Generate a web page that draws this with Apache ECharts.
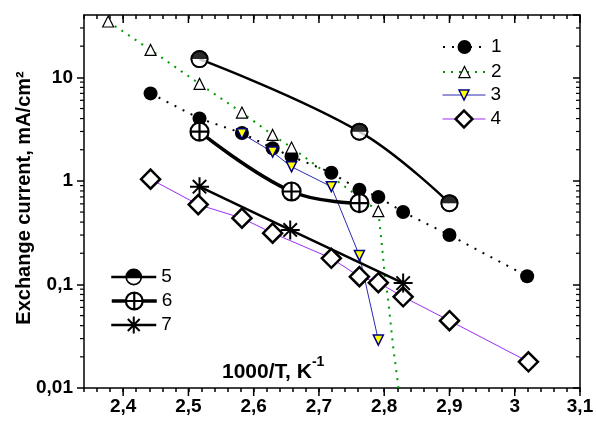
<!DOCTYPE html>
<html><head><meta charset="utf-8">
<script src="https://cdn.jsdelivr.net/npm/echarts@6/dist/echarts.min.js"></script>
<style>html,body{margin:0;padding:0;background:#fff}#c{width:596px;height:421px}</style>
</head><body><div id="c"></div>
<script>
// ---- axis ranges & ticks ----
const X_MIN = 2.34, X_MAX = 3.1, Y_MIN = 0.01, Y_MAX = 40;
const xMajorTicks = [2.4, 2.5, 2.6, 2.7, 2.8, 2.9, 3.0, 3.1];
const xTickLabels = ['2,4', '2,5', '2,6', '2,7', '2,8', '2,9', '3', '3,1'];
const yMajorTicks = [0.01, 0.1, 1, 10];
const yTickLabels = ['0,01', '0,1', '1', '10'];
const yMinorTicks = [0.02, 0.03, 0.04, 0.05, 0.06, 0.07, 0.08, 0.09,
                     0.2, 0.3, 0.4, 0.5, 0.6, 0.7, 0.8, 0.9,
                     2, 3, 4, 5, 6, 7, 8, 9, 20, 30];
const xTitle = '1000/T, K';
const xTitleSup = '-1';
const yTitle = 'Exchange current, mA/cm²';

// ---- data ----
const s1x = [2.442, 2.517, 2.582, 2.629, 2.658, 2.719, 2.762, 2.791, 2.829, 2.900, 3.019];
const s1y = [7.0, 4.0, 2.9, 2.07, 1.72, 1.2, 0.82, 0.70, 0.50, 0.30, 0.12];
const s2x = [2.377, 2.442, 2.517, 2.582, 2.629, 2.658, 2.791];
const s2y = [34.6, 18.4, 8.65, 4.57, 2.78, 2.10, 0.51];
const s2tailX = [2.791, 2.797, 2.801, 2.806, 2.814, 2.822, 2.828];
const s2tailY = [0.51, 0.22, 0.12, 0.071, 0.024, 0.010, 0.005];
const s3x = [2.582, 2.629, 2.658, 2.719, 2.762, 2.791];
const s3y = [2.85, 1.9, 1.37, 0.88, 0.19, 0.029];
const s4x = [2.442, 2.515, 2.582, 2.629, 2.719, 2.762, 2.791, 2.829, 2.900, 3.021];
const s4y = [1.04, 0.59, 0.437, 0.313, 0.179, 0.119, 0.104, 0.076, 0.0447, 0.0179];
const s5x = [2.517, 2.762, 2.900];
const s5y = [15.0, 2.99, 0.61];
const s6x = [2.517, 2.658, 2.762];
const s6y = [2.99, 0.79, 0.61];
const s7x = [2.517, 2.656, 2.829];
const s7y = [0.88, 0.336, 0.103];

const FONT = '"Liberation Sans", Arial, Helvetica, sans-serif';
const zip = (xs, ys) => xs.map((x, i) => [x, ys[i]]);
const fmtX = v => { for (let i = 0; i < xMajorTicks.length; i++) if (Math.abs(v - xMajorTicks[i]) < 1e-6) return xTickLabels[i]; return ''; };
const fmtY = v => { for (let i = 0; i < yMajorTicks.length; i++) if (Math.abs(Math.log10(v) - Math.log10(yMajorTicks[i])) < 1e-6) return yTickLabels[i]; return ''; };

const HALF_RING = 'path://M0,10A10,10,0,1,1,20,10A10,10,0,1,1,0,10ZM2,10A8,8,0,1,0,18,10A8,8,0,1,0,2,10ZM2,10A8,8,0,0,1,18,10Z';
const CROSS_CIRCLE = 'path://M0,10A10,10,0,1,1,20,10A10,10,0,1,1,0,10ZM0,10L20,10M10,0L10,20';
const ASTERISK = 'path://M0,10L20,10M10,0L10,20M2.93,2.93L17.07,17.07M17.07,2.93L2.93,17.07';

const chart = echarts.init(document.getElementById('c'), null, {renderer: 'canvas', width: 596, height: 421});

const axisLine = {show: true, onZero: false, lineStyle: {color: '#000', width: 1.5}};
const legendBase = (name, left, top, w, h) => ({
  data: [name], left: left, top: top, itemWidth: w, itemHeight: h, padding: 0,
  selectedMode: false, orient: 'vertical',
  lineStyle: {width: 'inherit'}, itemStyle: {borderWidth: 'inherit'},
  textStyle: {fontSize: 19, fontFamily: FONT, color: '#000', lineHeight: 22}
});

const option = {
  animation: false,
  backgroundColor: '#fff',
  grid: {left: 84, right: 16, top: 15, bottom: 33, containLabel: false, outerBoundsMode: 'none'},
  xAxis: [
    {type: 'value', min: X_MIN, max: X_MAX, interval: 0.02, position: 'bottom',
     axisLine: axisLine, splitLine: {show: false},
     axisTick: {show: true, inside: false, length: 4, lineStyle: {color: '#000', width: 1.5}},
     axisLabel: {formatter: fmtX, color: '#000', fontSize: 19, fontWeight: 'bold', fontFamily: FONT, margin: 9}},
    {type: 'value', min: X_MIN, max: X_MAX, interval: 0.02, position: 'top',
     axisLine: axisLine, splitLine: {show: false},
     axisTick: {show: true, inside: true, length: 4, lineStyle: {color: '#000', width: 1.5}},
     axisLabel: {show: false}}
  ],
  yAxis: [
    {type: 'log', logBase: 10, min: Y_MIN, max: Y_MAX, position: 'left',
     axisLine: axisLine, splitLine: {show: false},
     axisTick: {show: true, inside: false, length: 7, lineStyle: {color: '#000', width: 1.5}},
     axisLabel: {formatter: fmtY, showMaxLabel: false, color: '#000', fontSize: 19, fontWeight: 'bold', fontFamily: FONT, margin: 11}},
    {type: 'log', logBase: 10, min: Y_MIN, max: Y_MAX, position: 'right',
     axisLine: axisLine, splitLine: {show: false},
     axisTick: {show: true, inside: true, length: 7, lineStyle: {color: '#000', width: 1.5}},
     axisLabel: {show: false}}
  ],
  graphic: [
    {type: 'text', left: 222, top: 355, silent: true,
     style: {text: '{a|' + xTitle + '}{b|' + xTitleSup + '}', rich: {
       a: {fontSize: 21, fontWeight: 'bold', fontFamily: FONT, fill: '#000', verticalAlign: 'bottom', lineHeight: 28},
       b: {fontSize: 14, fontWeight: 'bold', fontFamily: FONT, fill: '#000', verticalAlign: 'top', lineHeight: 28}
     }}},
    {type: 'text', x: 24, y: 198, rotation: Math.PI / 2, silent: true,
     style: {text: yTitle, fontSize: 20, fontWeight: 'bold', fontFamily: FONT, fill: '#000',
             align: 'center', verticalAlign: 'middle'}}
  ],
  legend: [
    legendBase('1', 442, 36, 43, 17.5),
    legendBase('2', 442, 61, 43, 14),
    legendBase('3', 442, 84, 43, 12.5),
    legendBase('4', 442, 108, 43, 21),
    legendBase('5', 110, 266, 45, 21),
    legendBase('6', 110, 290, 45, 21),
    legendBase('7', 110, 314, 45, 21)
  ],
  series: [
    {type: 'custom', silent: true, clip: false, z: 1, xAxisIndex: 0, yAxisIndex: 0,
     data: xMajorTicks.map(v => [v, Y_MIN]),
     renderItem: (params, api) => {
       const v = api.value(0);
       const b = api.coord([v, Y_MIN]); const t = api.coord([v, Y_MAX]);
       const st = {stroke: '#000', lineWidth: 1.5};
       return {type: 'group', children: [
         {type: 'line', shape: {x1: b[0], y1: b[1], x2: b[0], y2: b[1] + 8}, style: st},
         {type: 'line', shape: {x1: t[0], y1: t[1], x2: t[0], y2: t[1] + 8}, style: st}
       ]};
     }},
    {type: 'custom', silent: true, clip: false, z: 1, xAxisIndex: 0, yAxisIndex: 0,
     data: yMinorTicks.map(v => [X_MIN, v]),
     renderItem: (params, api) => {
       const v = api.value(1);
       const l = api.coord([X_MIN, v]); const r = api.coord([X_MAX, v]);
       const st = {stroke: '#000', lineWidth: 1.2};
       return {type: 'group', children: [
         {type: 'line', shape: {x1: l[0] - 4, y1: l[1], x2: l[0], y2: l[1]}, style: st},
         {type: 'line', shape: {x1: r[0] - 4, y1: r[1], x2: r[0], y2: r[1]}, style: st}
       ]};
     }},
    {type: 'line', name: '1', data: zip(s1x, s1y), z: 2, emphasis: {disabled: true},
     symbol: 'circle', symbolSize: 14, itemStyle: {color: '#000'},
     lineStyle: {color: '#000', width: 2, type: [2, 7]}},
    {type: 'line', name: '2', data: zip(s2x, s2y), z: 2, emphasis: {disabled: true},
     symbol: 'triangle', symbolSize: 11, itemStyle: {color: '#fff', borderColor: '#000', borderWidth: 1.2},
     lineStyle: {color: '#009a00', width: 2, type: [2, 6]}},
    {type: 'line', data: zip(s2tailX, s2tailY), z: 2, silent: true, symbol: 'none',
     lineStyle: {color: '#009a00', width: 2, type: [2, 6]}},
    {type: 'line', name: '3', data: zip(s3x, s3y), z: 2, emphasis: {disabled: true},
     symbol: 'triangle', symbolRotate: 180, symbolSize: 10,
     itemStyle: {color: '#ffff00', borderColor: '#000080', borderWidth: 1.5},
     lineStyle: {color: '#2a2ab0', width: 1}},
    {type: 'line', name: '4', data: zip(s4x, s4y), z: 2, emphasis: {disabled: true},
     symbol: 'diamond', symbolSize: 19,
     itemStyle: {color: '#fff', borderColor: '#000', borderWidth: 2.5},
     lineStyle: {color: '#9a30f5', width: 1}},
    {type: 'line', name: '5', data: zip(s5x, s5y), z: 2, emphasis: {disabled: true}, smooth: 0.4,
     symbol: HALF_RING, symbolSize: 18, itemStyle: {color: '#000', borderWidth: 0},
     lineStyle: {color: '#000', width: 2.5}},
    {type: 'scatter', data: zip(s5x, s5y), z: 3, silent: true,
     symbol: 'circle', symbolSize: 14, itemStyle: {color: '#fff'}},
    {type: 'scatter', data: zip(s5x, s5y), z: 4, silent: true,
     symbol: HALF_RING, symbolSize: 18, itemStyle: {color: '#000'}},
    {type: 'line', name: '6', data: zip(s6x, s6y), z: 2, emphasis: {disabled: true}, smooth: 0.4,
     symbol: CROSS_CIRCLE, symbolSize: 18,
     itemStyle: {color: '#fff', borderColor: '#000', borderWidth: 2.2},
     lineStyle: {color: '#000', width: 3.5}},
    {type: 'line', name: '7', data: zip(s7x, s7y), z: 2, emphasis: {disabled: true},
     symbol: ASTERISK, symbolSize: 19,
     itemStyle: {color: '#000', borderColor: '#000', borderWidth: 2},
     lineStyle: {color: '#000', width: 2.5}}
  ]
};
chart.setOption(option);
</script></body></html>
